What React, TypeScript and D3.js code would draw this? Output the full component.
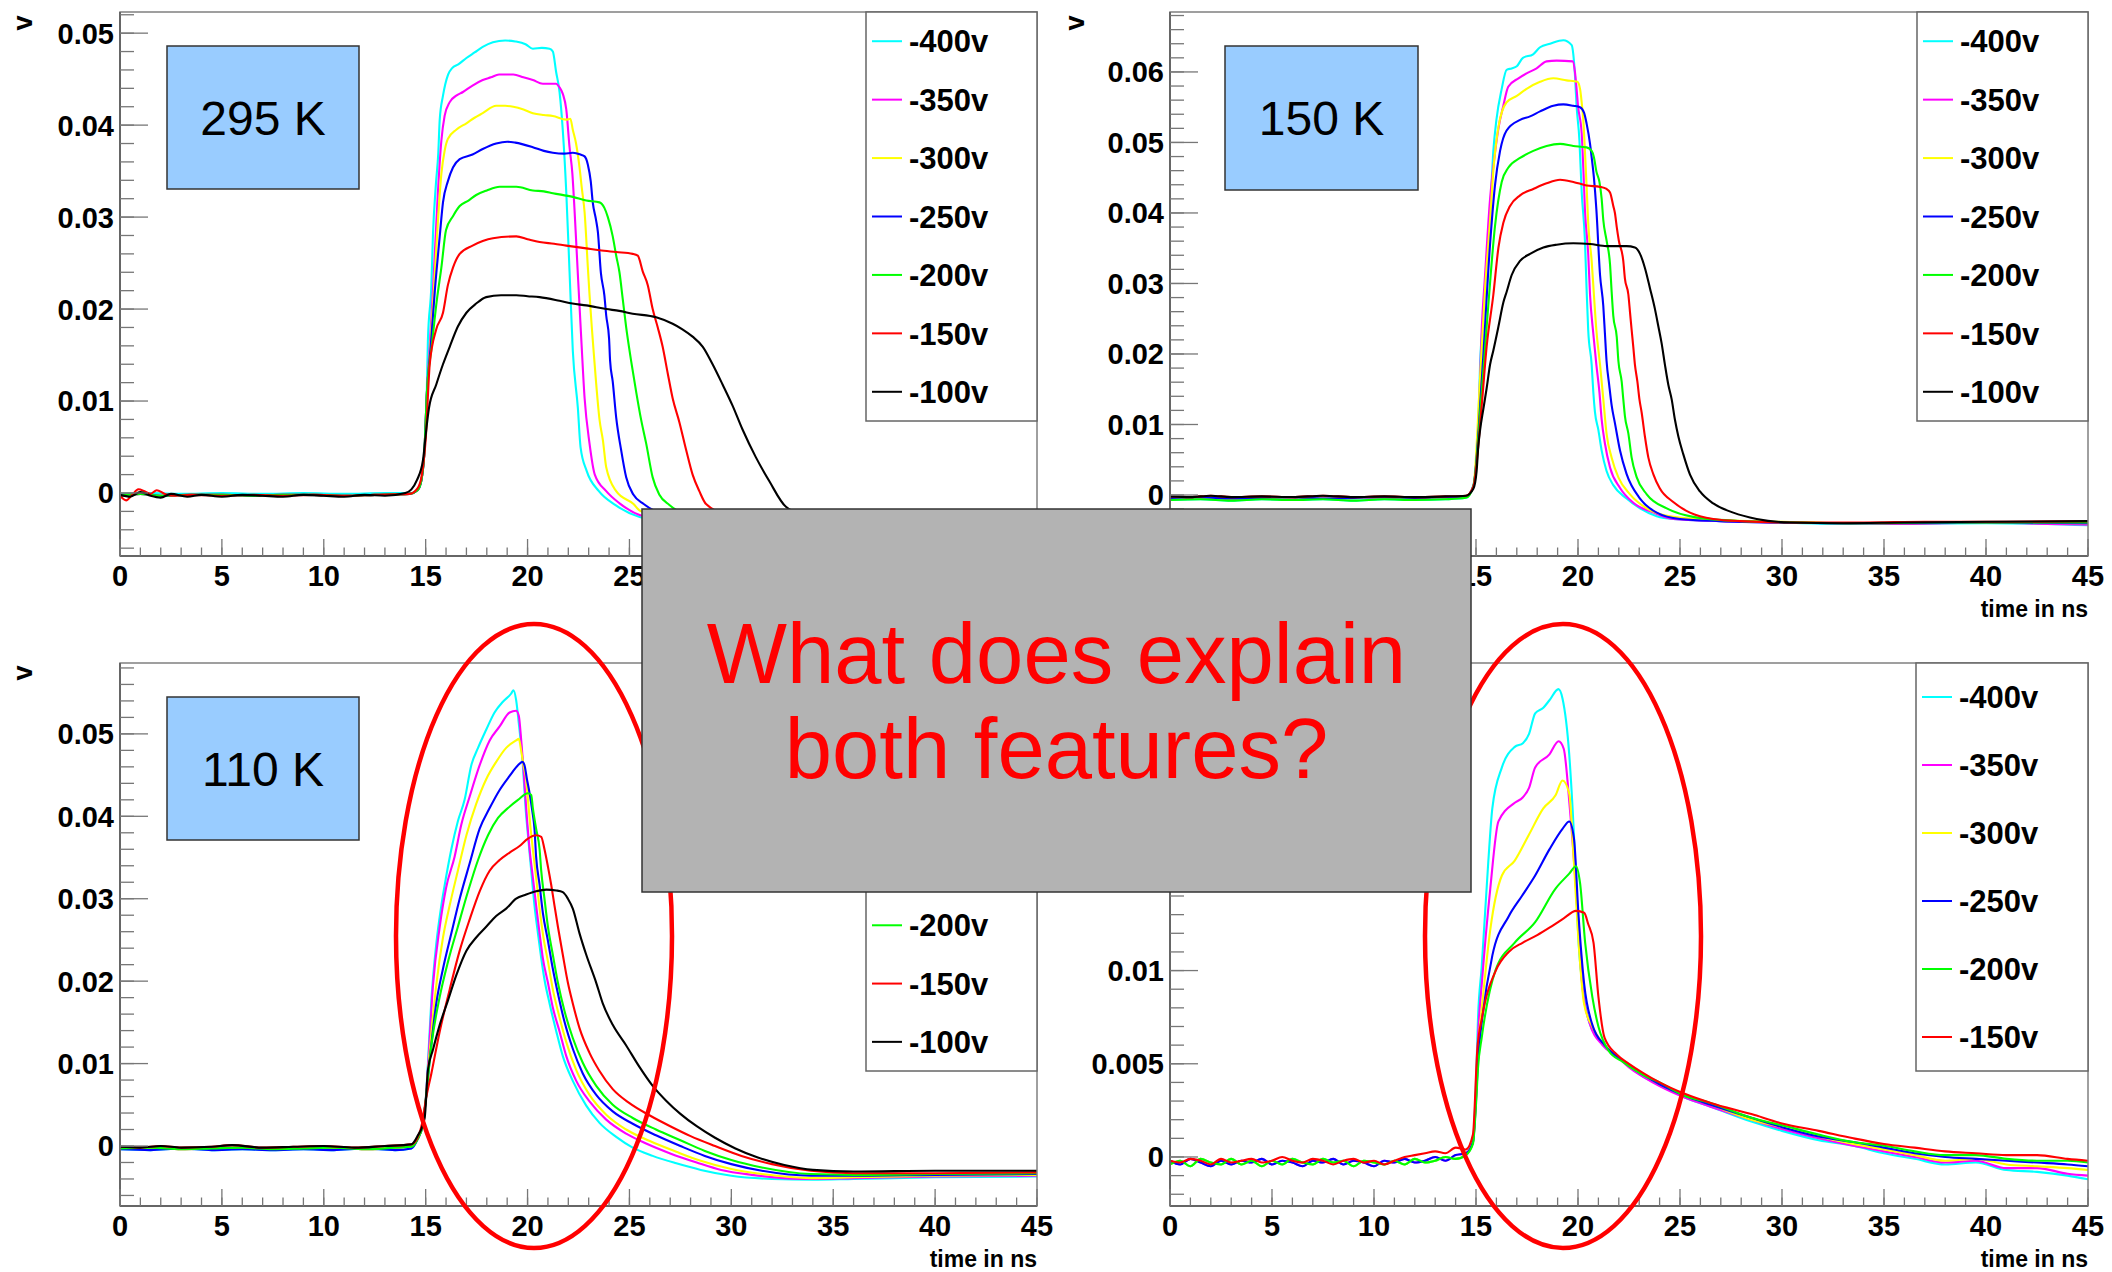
import React from "react";
import * as d3 from "d3";

type Pt = [number, number];

// ---- series metadata ----
const SERIES_LABELS = ["-400v", "-350v", "-300v", "-250v", "-200v", "-150v", "-100v"];
const SERIES_COLORS = ["#00ffff", "#ff00ff", "#ffff00", "#0000ff", "#00ff00", "#ff0000", "#000000"];

// ---- axis ticks ----
const X_MAJOR = [0, 5, 10, 15, 20, 25, 30, 35, 40, 45];
const Y_MAJOR_A = [0, 0.01, 0.02, 0.03, 0.04, 0.05];
const Y_MAJOR_B = [0, 0.01, 0.02, 0.03, 0.04, 0.05, 0.06];
const Y_MAJOR_C = [0, 0.005, 0.01, 0.015, 0.02, 0.025];

const TEMP_LABELS = ["295 K", "150 K", "110 K"];
const QUESTION_LINES = ["What does explain", "both features?"];

// ---- 295 K (time in ns, volts) ----
const BASE_295_CYAN: Pt[] = [[0, -0.0001], [1.5, 0.0], [3, -0.0001], [5, 0.0], [7, -0.0001], [9, 0.0], [11, -0.0001], [13, 0.0], [14.3, 0.0]];
const BASE_295_MID: Pt[] = [[0, -0.0003], [1, -0.0001], [2, -0.0003], [3.5, -0.0002], [5, -0.0002], [6.5, -0.0003], [8, -0.0002], [9.5, -0.0002], [11, -0.0003], [12.5, -0.0002], [14.2, -0.0001]];
const BASE_295_RED: Pt[] = [[0, -0.0003], [0.3, -0.0008], [0.6, -0.0002], [0.9, 0.0004], [1.2, 0.0002], [1.5, -0.0001], [1.8, 0.0003], [2.2, -0.0001], [2.7, -0.0003], [3.5, -0.0002], [5, -0.0003], [6.5, -0.0002], [8, -0.0003], [9.5, -0.0002], [11, -0.0003], [12.5, -0.0002], [14.2, -0.0001]];
const BASE_295_BLACK: Pt[] = [[0, -0.0002], [0.5, -0.0004], [1, 0.0001], [1.5, -0.0003], [2, -0.0005], [2.5, -0.0001], [3.3, -0.0004], [4, -0.0002], [5, -0.0004], [6, -0.0002], [7, -0.0003], [8, -0.0004], [9, -0.0002], [10, -0.0003], [11, -0.0004], [12, -0.0002], [13, -0.0003], [14, 0.0]];
const RISE_295: Pt[] = [[14.6, 0.0003], [14.8, 0.0015], [14.95, 0.005], [15.05, 0.0105]];

const T295_400: Pt[] = [...BASE_295_CYAN, ...RISE_295, [15.11, 0.0166], [15.28, 0.0226], [15.36, 0.0282], [15.5, 0.0335], [15.62, 0.037], [15.69, 0.0406], [15.85, 0.0432], [16.1, 0.0455], [16.3, 0.0462], [16.6, 0.0466], [17.0, 0.0473], [17.4, 0.0479], [17.8, 0.0485], [18.3, 0.049], [18.9, 0.0492], [19.4, 0.0491], [19.9, 0.0488], [20.26, 0.0483], [20.7, 0.0484], [21.08, 0.0483], [21.24, 0.048], [21.4, 0.0458], [21.57, 0.0436], [21.9, 0.0327], [22.06, 0.0241], [22.22, 0.0155], [22.47, 0.0092], [22.6, 0.005], [22.9, 0.0024], [23.5, 0.0002], [24.3, -0.0013], [25.5, -0.0026], [27, -0.0031], [30, -0.0033], [35, -0.0032], [40, -0.0031], [45, -0.003]];
const T295_350: Pt[] = [...BASE_295_MID, ...RISE_295, [15.2, 0.016], [15.36, 0.0221], [15.6, 0.0327], [15.77, 0.0383], [15.93, 0.041], [16.18, 0.0425], [16.5, 0.0432], [16.83, 0.0436], [17.3, 0.0443], [17.8, 0.0449], [18.2, 0.0452], [18.6, 0.0455], [19.3, 0.0455], [19.8, 0.0452], [20.26, 0.0449], [20.75, 0.0445], [21.4, 0.0445], [21.57, 0.0441], [21.73, 0.0434], [21.9, 0.0417], [22.06, 0.0376], [22.2, 0.0347], [22.3, 0.031], [22.47, 0.0237], [22.63, 0.017], [22.8, 0.0103], [23.04, 0.0054], [23.3, 0.002], [23.86, 0.0002], [24.5, -0.0011], [25.5, -0.0024], [27, -0.003], [30, -0.0033], [35, -0.0032], [40, -0.0031], [45, -0.003]];
const T295_300: Pt[] = [...BASE_295_MID, ...RISE_295, [15.2, 0.015], [15.4, 0.022], [15.6, 0.0295], [15.77, 0.0347], [15.93, 0.0372], [16.09, 0.0385], [16.5, 0.0395], [17.0, 0.0402], [17.4, 0.0408], [17.8, 0.0413], [18.46, 0.0421], [18.9, 0.0421], [19.3, 0.042], [19.8, 0.0417], [20.26, 0.0413], [20.8, 0.0411], [21.24, 0.041], [21.9, 0.0406], [22.1, 0.0407], [22.22, 0.0395], [22.38, 0.038], [22.55, 0.0354], [22.66, 0.0332], [22.8, 0.0305], [22.96, 0.0245], [23.04, 0.0216], [23.15, 0.0181], [23.25, 0.0152], [23.36, 0.0121], [23.53, 0.008], [23.7, 0.0057], [23.86, 0.0028], [24.35, 0.0002], [25.2, -0.0012], [25.5, -0.0019], [27, -0.0028], [30, -0.0032], [35, -0.0032], [40, -0.0031], [45, -0.003]];
const T295_250: Pt[] = [...BASE_295_MID, ...RISE_295, [15.25, 0.016], [15.45, 0.022], [15.69, 0.0279], [15.85, 0.0316], [16.09, 0.0339], [16.34, 0.0354], [16.67, 0.0363], [17.3, 0.0368], [17.8, 0.0374], [18.46, 0.038], [19.0, 0.0382], [19.4, 0.0381], [20.26, 0.0376], [20.8, 0.0372], [21.24, 0.037], [21.8, 0.0369], [22.22, 0.037], [22.6, 0.0368], [22.8, 0.0366], [22.96, 0.0357], [23.1, 0.0339], [23.2, 0.0316], [23.36, 0.0297], [23.45, 0.0284], [23.6, 0.0239], [23.77, 0.0215], [23.86, 0.0193], [24.0, 0.0168], [24.05, 0.0144], [24.18, 0.0121], [24.35, 0.0082], [24.59, 0.0047], [24.84, 0.0017], [25.2, -0.0002], [25.7, -0.0012], [27, -0.0025], [30, -0.0031], [35, -0.0032], [40, -0.0031], [45, -0.003]];
const T295_200: Pt[] = [...BASE_295_MID, ...RISE_295, [15.3, 0.016], [15.55, 0.021], [15.77, 0.0245], [16.0, 0.0286], [16.34, 0.0301], [16.67, 0.0312], [17.1, 0.0318], [17.48, 0.0324], [18.0, 0.0329], [18.63, 0.0333], [19.45, 0.0333], [20.26, 0.0329], [20.8, 0.0328], [21.24, 0.0326], [22.22, 0.0322], [22.88, 0.0318], [23.53, 0.0316], [23.77, 0.031], [23.94, 0.03], [24.18, 0.0279], [24.35, 0.0258], [24.51, 0.024], [24.67, 0.0211], [24.84, 0.018], [25.08, 0.0144], [25.33, 0.011], [25.57, 0.008], [25.82, 0.0054], [26.14, 0.0017], [26.47, -0.0002], [26.96, -0.0013], [28, -0.0025], [30, -0.003], [35, -0.0032], [40, -0.0031], [45, -0.003]];
const T295_150: Pt[] = [...BASE_295_RED, [14.6, 0.0005], [14.8, 0.0018], [15.0, 0.0058], [15.2, 0.014], [15.52, 0.0178], [15.85, 0.0196], [16.09, 0.0226], [16.34, 0.0245], [16.67, 0.026], [17.3, 0.0269], [17.8, 0.0274], [18.3, 0.0277], [19.45, 0.0279], [20.0, 0.0276], [20.59, 0.0273], [21.3, 0.0271], [21.9, 0.0269], [22.88, 0.0266], [23.53, 0.0264], [24.35, 0.0262], [25.16, 0.026], [25.41, 0.0258], [25.65, 0.0241], [25.9, 0.0226], [26.14, 0.02], [26.39, 0.018], [26.63, 0.0159], [26.88, 0.013], [27.12, 0.0103], [27.45, 0.0077], [27.78, 0.0047], [28.1, 0.002], [28.43, 0.0002], [28.76, -0.0012], [30, -0.0025], [32, -0.003], [35, -0.0031], [40, -0.0031], [45, -0.003]];
const T295_100: Pt[] = [...BASE_295_BLACK, [14.3, 0.0004], [14.57, 0.0014], [14.87, 0.0036], [15.03, 0.0069], [15.16, 0.0092], [15.52, 0.0118], [15.85, 0.014], [16.18, 0.0159], [16.58, 0.0181], [17.0, 0.0196], [17.48, 0.0206], [17.97, 0.0213], [18.7, 0.0215], [19.45, 0.0215], [20.0, 0.0214], [20.59, 0.0213], [21.57, 0.0209], [22.2, 0.0206], [22.88, 0.0204], [23.86, 0.02], [24.5, 0.0198], [25.16, 0.0195], [26.31, 0.0191], [27.12, 0.0184], [27.6, 0.0178], [28.1, 0.017], [28.6, 0.0159], [29.08, 0.014], [29.57, 0.0118], [30.06, 0.0095], [30.55, 0.0069], [31.2, 0.0039], [31.86, 0.0013], [32.68, -0.0015], [34, -0.0027], [36, -0.0031], [40, -0.003], [45, -0.003]];

// ---- 150 K ----
const BASE_150_A: Pt[] = [[0, -0.0004], [1.5, -0.0003], [3, -0.0005], [4.5, -0.0004], [6, -0.0003], [7.5, -0.0005], [9, -0.0004], [10.5, -0.0003], [12, -0.0004], [13.5, -0.0003], [14.5, -0.0002]];
const BASE_150_B: Pt[] = [[0, -0.0002], [1, -0.0003], [2, -0.0001], [3, -0.0003], [4.5, -0.0002], [6, -0.0003], [7.5, -0.0001], [9, -0.0003], [10.5, -0.0002], [12, -0.0003], [13.5, -0.0002], [14.5, -0.0001]];
const BASE_150_C: Pt[] = [[0, -0.0007], [1.5, -0.0006], [3, -0.0008], [4.5, -0.0006], [6, -0.0007], [7.5, -0.0006], [9, -0.0008], [10.5, -0.0006], [12, -0.0007], [13.5, -0.0006], [14.5, -0.0004]];

const T150_400: Pt[] = [...BASE_150_C, [14.87, 0.0014], [15.11, 0.0097], [15.2, 0.0185], [15.36, 0.0254], [15.52, 0.0332], [15.69, 0.04], [15.85, 0.0488], [16.0, 0.0532], [16.26, 0.0576], [16.5, 0.0603], [16.75, 0.0605], [17.0, 0.0608], [17.3, 0.062], [17.8, 0.0625], [18.14, 0.0635], [18.63, 0.064], [19.28, 0.0645], [19.69, 0.0638], [19.77, 0.0625], [19.85, 0.0596], [19.93, 0.0552], [20.07, 0.0503], [20.18, 0.043], [20.34, 0.0361], [20.42, 0.0293], [20.5, 0.0234], [20.67, 0.0185], [20.75, 0.0146], [20.83, 0.0118], [21.0, 0.0092], [21.16, 0.0063], [21.4, 0.0034], [21.73, 0.0014], [22.38, -0.0005], [23.04, -0.0019], [23.86, -0.003], [24.67, -0.0034], [27, -0.0037], [30, -0.0039], [33, -0.0041], [36, -0.0041], [40, -0.004], [43, -0.0041], [45, -0.0043]];
const T150_350: Pt[] = [...BASE_150_A, [14.87, 0.0012], [15.11, 0.009], [15.28, 0.0235], [15.44, 0.031], [15.69, 0.042], [15.93, 0.0485], [16.1, 0.052], [16.34, 0.0552], [16.58, 0.0579], [17.08, 0.0591], [17.48, 0.0598], [17.97, 0.0605], [18.46, 0.0615], [18.95, 0.0616], [19.74, 0.0615], [19.85, 0.06], [19.93, 0.0576], [20.0, 0.0552], [20.18, 0.0513], [20.26, 0.0464], [20.34, 0.0405], [20.5, 0.0342], [20.59, 0.0284], [20.75, 0.0229], [20.9, 0.0185], [21.05, 0.0146], [21.16, 0.0107], [21.32, 0.0073], [21.57, 0.0039], [22.06, 0.001], [22.71, -0.0011], [23.7, -0.0025], [24.67, -0.0034], [27, -0.0037], [30, -0.0039], [33, -0.004], [36, -0.0041], [40, -0.0039], [43, -0.0041], [45, -0.0042]];
const T150_300: Pt[] = [...BASE_150_A, [14.87, 0.0012], [15.2, 0.0166], [15.44, 0.029], [15.69, 0.039], [15.85, 0.046], [16.1, 0.0522], [16.5, 0.0557], [17.0, 0.0566], [17.48, 0.0576], [18.14, 0.0586], [18.79, 0.0591], [19.44, 0.0588], [19.97, 0.0586], [20.1, 0.0576], [20.18, 0.0557], [20.26, 0.0532], [20.34, 0.0488], [20.42, 0.0439], [20.5, 0.0386], [20.67, 0.0332], [20.78, 0.0284], [20.9, 0.0234], [21.08, 0.0185], [21.24, 0.0136], [21.4, 0.0087], [21.65, 0.0053], [21.98, 0.0025], [22.55, 0.0001], [23.37, -0.0019], [24.67, -0.0031], [27, -0.0036], [30, -0.0038], [33, -0.004], [36, -0.004], [40, -0.0039], [45, -0.004]];
const T150_250: Pt[] = [...BASE_150_A, [14.87, 0.0012], [15.28, 0.0162], [15.69, 0.0356], [15.93, 0.0439], [16.18, 0.0488], [16.5, 0.0517], [17.16, 0.0532], [17.65, 0.0537], [18.14, 0.0544], [18.79, 0.0552], [19.28, 0.0554], [19.77, 0.0552], [20.1, 0.055], [20.3, 0.0542], [20.42, 0.0527], [20.59, 0.0498], [20.67, 0.0479], [20.78, 0.045], [20.9, 0.0405], [21.08, 0.0312], [21.24, 0.0268], [21.32, 0.0229], [21.4, 0.019], [21.53, 0.0156], [21.65, 0.0127], [21.81, 0.0102], [22.06, 0.0063], [22.38, 0.003], [23.04, -0.0005], [23.86, -0.0025], [25.0, -0.0034], [27, -0.0037], [30, -0.0039], [33, -0.004], [36, -0.004], [40, -0.0039], [45, -0.004]];
const T150_200: Pt[] = [...BASE_150_C, [14.87, 0.0012], [15.28, 0.0146], [15.6, 0.0268], [15.93, 0.0381], [16.26, 0.0444], [16.58, 0.0464], [17.16, 0.0478], [17.81, 0.0488], [18.46, 0.0495], [19.12, 0.0498], [19.77, 0.0495], [20.42, 0.0493], [20.67, 0.0488], [20.78, 0.0479], [20.9, 0.0459], [21.05, 0.0444], [21.16, 0.042], [21.24, 0.039], [21.4, 0.0361], [21.57, 0.0327], [21.65, 0.0288], [21.73, 0.0254], [21.9, 0.0224], [21.98, 0.019], [22.14, 0.0161], [22.22, 0.0136], [22.3, 0.0112], [22.47, 0.0087], [22.63, 0.0053], [22.88, 0.0025], [23.37, 0.0001], [24.35, -0.0019], [25.65, -0.0031], [28, -0.0037], [31, -0.0039], [34, -0.004], [37, -0.0039], [41, -0.0039], [45, -0.0039]];
const T150_150: Pt[] = [...BASE_150_B, [14.87, 0.0012], [15.28, 0.0127], [15.52, 0.021], [15.85, 0.0284], [16.1, 0.0351], [16.34, 0.0386], [16.67, 0.041], [17.16, 0.0425], [17.81, 0.0434], [18.46, 0.0442], [19.12, 0.0447], [19.77, 0.0444], [20.42, 0.0439], [21.08, 0.0437], [21.4, 0.0434], [21.57, 0.0429], [21.73, 0.041], [21.81, 0.04], [21.9, 0.038], [22.0, 0.0361], [22.22, 0.0332], [22.3, 0.0307], [22.47, 0.0284], [22.55, 0.0259], [22.63, 0.0234], [22.71, 0.021], [22.79, 0.0185], [22.91, 0.0161], [23.01, 0.0136], [23.12, 0.0117], [23.28, 0.0083], [23.45, 0.0053], [23.7, 0.0029], [24.0, 0.001], [24.67, -0.001], [25.49, -0.0025], [26.63, -0.0034], [27.94, -0.0037], [31, -0.0039], [34, -0.0039], [37, -0.0038], [41, -0.0038], [45, -0.0037]];
const T150_100: Pt[] = [...BASE_150_B, [14.87, 0.0009], [15.03, 0.0034], [15.11, 0.0068], [15.2, 0.0092], [15.36, 0.0122], [15.52, 0.0151], [15.69, 0.0185], [15.85, 0.0205], [16.1, 0.0239], [16.34, 0.0273], [16.5, 0.0288], [16.75, 0.0312], [17.16, 0.0332], [17.65, 0.0342], [18.3, 0.0351], [18.95, 0.0355], [19.77, 0.0357], [20.59, 0.0356], [21.4, 0.0353], [22.38, 0.0353], [22.79, 0.0351], [23.04, 0.0342], [23.28, 0.0322], [23.53, 0.0293], [23.77, 0.0264], [23.94, 0.0239], [24.1, 0.0215], [24.26, 0.0185], [24.43, 0.0156], [24.59, 0.0136], [24.75, 0.0107], [24.92, 0.0083], [25.16, 0.0058], [25.49, 0.0029], [25.98, 0.0005], [26.63, -0.0012], [27.61, -0.0025], [28.76, -0.0034], [30.39, -0.0039], [33, -0.004], [36, -0.0039], [40, -0.0038], [45, -0.0037]];

// ---- 110 K ----
const BASE_110_A: Pt[] = [[0, -0.0003], [1.5, -0.0002], [3, -0.0004], [4.5, -0.0003], [6, -0.0002], [7.5, -0.0004], [9, -0.0003], [10.5, -0.0002], [12, -0.0004], [13.5, -0.0002], [14.3, -0.0001]];
const BASE_110_B: Pt[] = [[0, -0.0001], [1, -0.0002], [2, 0.0], [3, -0.0002], [4.5, -0.0001], [5.5, 0.0001], [7, -0.0002], [8.5, -0.0001], [10, 0.0], [11.5, -0.0002], [13, 0.0], [14.3, 0.0002]];
const BASE_110_C: Pt[] = [[0, -0.0004], [1.5, -0.0005], [3, -0.0003], [4.5, -0.0005], [6, -0.0004], [7.5, -0.0005], [9, -0.0004], [10.5, -0.0005], [12, -0.0003], [13.5, -0.0005], [14.3, -0.0003]];
const RISE_110: Pt[] = [[14.6, 0.0008], [14.85, 0.0025], [15.0, 0.0055]];

const T110_400: Pt[] = [...BASE_110_C, ...RISE_110, [15.11, 0.01], [15.28, 0.0177], [15.52, 0.0245], [15.77, 0.0292], [16.0, 0.0326], [16.26, 0.036], [16.58, 0.0394], [16.91, 0.042], [17.24, 0.0462], [17.57, 0.0483], [17.97, 0.0505], [18.38, 0.0526], [18.79, 0.0539], [19.2, 0.0549], [19.31, 0.0553], [19.44, 0.0541], [19.57, 0.0513], [19.77, 0.0462], [19.9, 0.0411], [20.02, 0.0377], [20.18, 0.0334], [20.34, 0.0292], [20.51, 0.0258], [20.67, 0.0228], [20.83, 0.0202], [21.08, 0.0173], [21.41, 0.0139], [21.73, 0.0109], [22.22, 0.0079], [22.88, 0.0049], [23.53, 0.0028], [24.35, 0.0011], [25.16, -0.0002], [26.14, -0.0012], [27.3, -0.0021], [28.5, -0.0029], [30, -0.0036], [32, -0.004], [34, -0.0041], [36, -0.004], [40, -0.0038], [45, -0.0037]];
const T110_350: Pt[] = [...BASE_110_A, ...RISE_110, [15.11, 0.0095], [15.36, 0.0195], [15.69, 0.0266], [16.0, 0.0313], [16.42, 0.0351], [16.75, 0.039], [17.16, 0.0424], [17.65, 0.0462], [18.14, 0.0492], [18.63, 0.0509], [19.12, 0.0526], [19.44, 0.0528], [19.57, 0.0522], [19.69, 0.0492], [19.8, 0.0458], [19.93, 0.0411], [20.1, 0.036], [20.26, 0.0326], [20.42, 0.0292], [20.59, 0.0258], [20.75, 0.0228], [21.0, 0.0198], [21.24, 0.0168], [21.57, 0.0139], [21.9, 0.0109], [22.39, 0.0079], [23.04, 0.0054], [23.86, 0.0032], [24.84, 0.0015], [25.82, 0.0003], [27, -0.0009], [28.3, -0.002], [29.5, -0.0029], [31, -0.0035], [33.9, -0.004], [36, -0.0039], [40, -0.0037], [45, -0.0036]];
const T110_300: Pt[] = [...BASE_110_A, ...RISE_110, [15.2, 0.0115], [15.52, 0.0195], [15.85, 0.0253], [16.18, 0.0292], [16.58, 0.0334], [17.0, 0.0377], [17.48, 0.0415], [17.97, 0.0445], [18.46, 0.0466], [18.95, 0.0483], [19.44, 0.0492], [19.57, 0.0494], [19.69, 0.0479], [19.8, 0.0462], [19.93, 0.0445], [20.02, 0.042], [20.13, 0.039], [20.26, 0.036], [20.42, 0.0326], [20.59, 0.0288], [20.78, 0.0253], [21.0, 0.0224], [21.24, 0.019], [21.57, 0.0156], [21.9, 0.0126], [22.39, 0.0092], [23.04, 0.0062], [23.86, 0.0038], [24.84, 0.002], [26, 0.0006], [27.3, -0.0007], [28.5, -0.0018], [30, -0.0028], [31.5, -0.0034], [33.9, -0.0039], [36, -0.0038], [40, -0.0036], [45, -0.0035]];
const T110_250: Pt[] = [...BASE_110_C, ...RISE_110, [15.2, 0.0105], [15.52, 0.0173], [15.85, 0.0215], [16.26, 0.0258], [16.67, 0.03], [17.16, 0.0343], [17.65, 0.0385], [18.14, 0.041], [18.63, 0.0432], [19.12, 0.0449], [19.53, 0.0462], [19.75, 0.0466], [19.85, 0.0462], [19.97, 0.0445], [20.1, 0.0428], [20.23, 0.0407], [20.34, 0.0385], [20.42, 0.0351], [20.59, 0.0317], [20.75, 0.0283], [21.0, 0.0249], [21.24, 0.0215], [21.49, 0.0185], [21.81, 0.0151], [22.22, 0.0118], [22.71, 0.0088], [23.37, 0.0062], [24.18, 0.0042], [25.16, 0.0027], [26.3, 0.0013], [27.5, 0.0], [28.7, -0.0012], [30, -0.0022], [31.5, -0.003], [33.9, -0.0036], [36, -0.0036], [40, -0.0035], [45, -0.0034]];
const T110_200: Pt[] = [...BASE_110_A, ...RISE_110, [15.28, 0.0122], [15.69, 0.0181], [16.1, 0.0224], [16.58, 0.0266], [17.08, 0.0309], [17.57, 0.0347], [18.06, 0.0377], [18.55, 0.0398], [19.04, 0.041], [19.53, 0.042], [20.02, 0.0428], [20.18, 0.0426], [20.26, 0.041], [20.42, 0.0385], [20.59, 0.036], [20.67, 0.0334], [20.83, 0.03], [21.0, 0.0266], [21.24, 0.0232], [21.49, 0.0198], [21.81, 0.0164], [22.22, 0.0131], [22.71, 0.0101], [23.37, 0.0073], [24.18, 0.005], [25.16, 0.0034], [26.3, 0.002], [27.5, 0.0007], [28.7, -0.0006], [30, -0.0017], [31.5, -0.0026], [33.9, -0.0034], [36, -0.0035], [40, -0.0034], [45, -0.0033]];
const T110_150: Pt[] = [...BASE_110_B, [14.6, 0.001], [14.85, 0.003], [15.0, 0.0055], [15.28, 0.0088], [15.69, 0.0139], [16.18, 0.019], [16.67, 0.0237], [17.16, 0.0275], [17.65, 0.0309], [18.14, 0.0334], [18.63, 0.0347], [19.12, 0.0356], [19.61, 0.0364], [20.02, 0.0373], [20.42, 0.0377], [20.67, 0.0375], [20.83, 0.036], [21.0, 0.0339], [21.16, 0.0317], [21.32, 0.0292], [21.49, 0.0266], [21.73, 0.0232], [21.98, 0.0198], [22.22, 0.0173], [22.55, 0.0143], [23.04, 0.0113], [23.53, 0.0091], [24.18, 0.0069], [25, 0.0052], [26, 0.0037], [27, 0.0024], [28, 0.0012], [29.2, 0.0], [30.5, -0.0012], [32, -0.0022], [33.9, -0.003], [36, -0.0033], [40, -0.0033], [45, -0.0032]];
const T110_100: Pt[] = [...BASE_110_B, [14.6, 0.0012], [14.95, 0.0034], [15.11, 0.0092], [15.36, 0.0117], [15.69, 0.0147], [16.1, 0.0177], [16.5, 0.0207], [17.0, 0.0237], [17.48, 0.0253], [17.97, 0.0266], [18.46, 0.0279], [18.95, 0.0288], [19.44, 0.03], [19.93, 0.0305], [20.42, 0.0309], [20.92, 0.0311], [21.41, 0.031], [21.73, 0.0308], [21.98, 0.03], [22.22, 0.0288], [22.55, 0.0258], [22.88, 0.0232], [23.37, 0.0198], [23.69, 0.0173], [24.18, 0.0147], [24.84, 0.0122], [25.49, 0.0096], [26.14, 0.0073], [26.8, 0.0055], [27.5, 0.0039], [28.3, 0.0024], [29.2, 0.001], [30.2, -0.0003], [31.3, -0.0014], [32.6, -0.0023], [34, -0.0029], [36, -0.0031], [40, -0.003], [45, -0.003]];

// ---- lowest temperature ----
const BASE_LT_A: Pt[] = [[0, -0.0002], [0.5, -0.0004], [1, -0.0001], [1.5, -0.0003], [2, -0.0005], [2.5, -0.0002], [3, -0.0004], [3.5, -0.0002], [4, -0.0003], [4.5, -0.0001], [5, -0.0004], [5.5, -0.0002], [6, -0.0003], [6.5, -0.0005], [7, -0.0002], [7.5, -0.0003], [8, -0.0001], [8.5, -0.0004], [9, -0.0002], [9.5, -0.0003], [10, -0.0005], [10.5, -0.0002], [11, -0.0003], [11.5, -0.0001], [12, -0.0003], [12.5, -0.0002], [13, 0.0], [13.5, -0.0002], [14, 0.0001], [14.5, 0.0002]];
const BASE_LT_B: Pt[] = [[0, -0.0004], [0.5, -0.0002], [1, -0.0005], [1.5, -0.0001], [2, -0.0003], [2.5, -0.0004], [3, -0.0001], [3.5, -0.0004], [4, -0.0002], [4.5, -0.0005], [5, -0.0002], [5.5, -0.0004], [6, -0.0001], [6.5, -0.0003], [7, -0.0004], [7.5, -0.0001], [8, -0.0003], [8.5, -0.0002], [9, -0.0005], [9.5, -0.0002], [10, -0.0003], [10.5, -0.0004], [11, -0.0002], [11.5, -0.0004], [12, -0.0001], [12.5, -0.0003], [13, -0.0002], [13.5, 0.0], [14, -0.0001], [14.5, 0.0001]];
const BASE_LT_RED: Pt[] = [[0, -0.0002], [0.5, -0.0003], [1, -0.0001], [1.5, -0.0002], [2, -0.0004], [2.5, -0.0001], [3, -0.0003], [3.5, -0.0002], [4, -0.0001], [4.5, -0.0003], [5, -0.0002], [5.5, 0.0], [6, -0.0002], [6.5, -0.0003], [7, -0.0001], [7.5, -0.0002], [8, -0.0004], [8.5, -0.0002], [9, -0.0001], [9.5, -0.0003], [10, -0.0002], [10.5, -0.0004], [11, -0.0002], [11.5, 0.0], [12, 0.0001], [12.5, 0.0002], [13, 0.0003], [13.5, 0.0002], [14, 0.0005], [14.5, 0.0004]];

const LT_400: Pt[] = [...BASE_LT_B, [14.85, 0.0008], [15.0, 0.004], [15.1, 0.0075], [15.28, 0.0102], [15.6, 0.0158], [15.8, 0.0187], [16.27, 0.0209], [16.9, 0.022], [17.3, 0.0222], [17.6, 0.0227], [17.9, 0.0238], [18.3, 0.0241], [18.6, 0.0245], [19.04, 0.0251], [19.24, 0.0246], [19.57, 0.0216], [19.8, 0.0173], [20.03, 0.0115], [20.3, 0.0086], [20.56, 0.0072], [21.2, 0.0061], [21.9, 0.0054], [22.5, 0.0049], [23.2, 0.0043], [24, 0.0039], [25.2, 0.0032], [26.5, 0.0027], [28.5, 0.0019], [30, 0.0014], [31.8, 0.0009], [33.5, 0.0006], [35, 0.0002], [36.5, -0.0001], [38, -0.0004], [39.5, -0.0003], [41, -0.0007], [42.5, -0.0008], [44, -0.001], [45, -0.0012]];
const LT_350: Pt[] = [...BASE_LT_A, [14.85, 0.0008], [15.0, 0.0035], [15.1, 0.0065], [15.3, 0.0095], [15.7, 0.0144], [16.1, 0.018], [16.9, 0.019], [17.3, 0.0193], [17.6, 0.0198], [17.9, 0.0209], [18.6, 0.0216], [19.05, 0.0223], [19.3, 0.0219], [19.6, 0.0187], [19.9, 0.0144], [20.2, 0.0093], [20.56, 0.0072], [21.2, 0.006], [21.9, 0.0054], [22.5, 0.0048], [23.2, 0.0043], [24, 0.0038], [25.2, 0.0032], [26.5, 0.0027], [28.5, 0.002], [30, 0.0015], [31.8, 0.001], [33.5, 0.0006], [35, 0.0003], [36.5, 0.0], [38, -0.0003], [39.5, -0.0002], [41, -0.0006], [42.5, -0.0006], [44, -0.0009], [45, -0.001]];
const LT_300: Pt[] = [...BASE_LT_B, [14.85, 0.0008], [15.0, 0.0032], [15.1, 0.0058], [15.28, 0.0079], [15.7, 0.0122], [16.27, 0.0151], [16.9, 0.0159], [17.6, 0.0173], [18.3, 0.0187], [18.9, 0.0194], [19.24, 0.0202], [19.57, 0.0195], [19.8, 0.0158], [20.03, 0.0115], [20.3, 0.0082], [20.7, 0.007], [21.3, 0.006], [21.9, 0.0054], [22.5, 0.0049], [23.2, 0.0044], [24, 0.0039], [25.2, 0.0033], [26.5, 0.0028], [28.5, 0.002], [30, 0.0016], [31.8, 0.0011], [33.5, 0.0007], [35, 0.0004], [36.5, 0.0001], [38, -0.0002], [39.5, -0.0001], [41, -0.0004], [42.5, -0.0005], [44, -0.0006], [45, -0.0007]];
const LT_250: Pt[] = [...BASE_LT_A, [14.85, 0.0008], [15.0, 0.003], [15.1, 0.0052], [15.28, 0.0072], [15.8, 0.0108], [16.6, 0.0129], [17.25, 0.014], [17.9, 0.0151], [18.6, 0.0165], [19.24, 0.0176], [19.57, 0.018], [19.8, 0.0171], [20.03, 0.0129], [20.3, 0.0093], [20.7, 0.0071], [21.3, 0.006], [21.9, 0.0054], [22.5, 0.0049], [23.2, 0.0044], [24, 0.0039], [25.2, 0.0033], [26.5, 0.0028], [28.5, 0.0021], [30, 0.0016], [31.8, 0.0011], [33.5, 0.0008], [35, 0.0005], [36.5, 0.0002], [38, 0.0], [39.5, -0.0001], [41, -0.0002], [42.5, -0.0003], [44, -0.0004], [45, -0.0005]];
const LT_200: Pt[] = [...BASE_LT_B, [14.85, 0.0007], [15.0, 0.0028], [15.1, 0.0048], [15.28, 0.0064], [15.95, 0.01], [16.9, 0.0115], [17.9, 0.0126], [18.9, 0.0144], [19.57, 0.0152], [19.9, 0.0156], [20.1, 0.0147], [20.35, 0.0115], [20.7, 0.0086], [21.0, 0.007], [21.5, 0.0057], [22.2, 0.0051], [23.2, 0.0044], [24, 0.004], [25.2, 0.0033], [26.5, 0.0029], [28.5, 0.0021], [30, 0.0017], [31.8, 0.0012], [33.5, 0.0008], [35, 0.0006], [36.5, 0.0003], [38, 0.0001], [39.5, 0.0001], [41, -0.0001], [42.5, -0.0002], [44, -0.0002], [45, -0.0003]];
const LT_150: Pt[] = [...BASE_LT_RED, [14.85, 0.0012], [15.06, 0.0057], [15.3, 0.0075], [15.97, 0.01], [16.6, 0.011], [17.3, 0.0115], [18.0, 0.0119], [18.6, 0.0123], [19.3, 0.0128], [19.9, 0.0132], [20.3, 0.0131], [20.5, 0.0125], [20.76, 0.0115], [21.0, 0.0086], [21.3, 0.0064], [21.9, 0.0055], [22.5, 0.005], [23.2, 0.0045], [24, 0.004], [25.2, 0.0034], [26.5, 0.0029], [28.5, 0.0023], [30, 0.0018], [31.8, 0.0014], [33.5, 0.001], [35, 0.0007], [36.5, 0.0005], [38, 0.0003], [39.5, 0.0002], [41, 0.0001], [42.5, 0.0001], [44, -0.0001], [45, -0.0002]];

// ---- panel layout ----
type PanelCfg = {
  id: string;
  left: number; right: number; top: number; bottom: number;
  yMin: number; yMax: number;
  yMajor: number[]; yMinor: number;
  series: Pt[][];
  temp: string | null;
  tempBox: [number, number, number, number];
  legendLeft: number; legendTop: number; legendBottom: number;
  vLabel: [number, number];
};

const PANELS: PanelCfg[] = [
  {
    id: "p295", left: 120, right: 1037, top: 12, bottom: 556,
    yMin: -0.00685, yMax: 0.0523, yMajor: Y_MAJOR_A, yMinor: 0.002,
    series: [T295_400, T295_350, T295_300, T295_250, T295_200, T295_150, T295_100],
    temp: TEMP_LABELS[0], tempBox: [167, 46, 359, 189],
    legendLeft: 866, legendTop: 12, legendBottom: 421, vLabel: [24, 23],
  },
  {
    id: "p150", left: 1170, right: 2088, top: 12, bottom: 556,
    yMin: -0.00865, yMax: 0.0685, yMajor: Y_MAJOR_B, yMinor: 0.002,
    series: [T150_400, T150_350, T150_300, T150_250, T150_200, T150_150, T150_100],
    temp: TEMP_LABELS[1], tempBox: [1225, 46, 1418, 190],
    legendLeft: 1917, legendTop: 12, legendBottom: 421, vLabel: [1076, 23],
  },
  {
    id: "p110", left: 120, right: 1037, top: 663, bottom: 1206,
    yMin: -0.00728, yMax: 0.0586, yMajor: Y_MAJOR_A, yMinor: 0.002,
    series: [T110_400, T110_350, T110_300, T110_250, T110_200, T110_150, T110_100],
    temp: TEMP_LABELS[2], tempBox: [167, 697, 359, 840],
    legendLeft: 866, legendTop: 663, legendBottom: 1071, vLabel: [24, 673],
  },
  {
    id: "plt", left: 1170, right: 2088, top: 663, bottom: 1206,
    yMin: -0.00263, yMax: 0.0265, yMajor: Y_MAJOR_C, yMinor: 0.001,
    series: [LT_400, LT_350, LT_300, LT_250, LT_200, LT_150],
    temp: null, tempBox: [1225, 697, 1418, 840],
    legendLeft: 1916, legendTop: 663, legendBottom: 1071, vLabel: [1076, 673],
  },
];

const FONT = "'Liberation Sans', Arial, Helvetica, sans-serif";
const fmtY = d3.format("~g");

function Panel({ cfg }: { cfg: PanelCfg }) {
  const x = d3.scaleLinear().domain([0, 45]).range([cfg.left, cfg.right]);
  const y = d3.scaleLinear().domain([cfg.yMin, cfg.yMax]).range([cfg.bottom, cfg.top]);
  const line = d3
    .line<Pt>()
    .x((d) => x(d[0]))
    .y((d) => y(d[1]))
    .curve(d3.curveMonotoneX);

  const kMin = Math.ceil(cfg.yMin / cfg.yMinor - 1e-9);
  const kMax = Math.floor(cfg.yMax / cfg.yMinor + 1e-9);
  const yMinorTicks = d3.range(kMin, kMax + 1).map((k) => k * cfg.yMinor);
  const xMinorTicks = d3.range(0, 46, 1);

  const clipId = `clip-${cfg.id}`;
  const n = cfg.series.length;
  const legendStep = (cfg.legendBottom - cfg.legendTop) / n;

  return (
    <g>
      <defs>
        <clipPath id={clipId}>
          <rect x={cfg.left} y={cfg.top} width={cfg.right - cfg.left} height={cfg.bottom - cfg.top} />
        </clipPath>
      </defs>
      <rect x={cfg.left} y={cfg.top} width={cfg.right - cfg.left} height={cfg.bottom - cfg.top} fill="#fff" />

      {/* waveforms */}
      <g clipPath={`url(#${clipId})`}>
        {cfg.series.map((s, i) => (
          <path
            key={i}
            d={line(s) || ""}
            fill="none"
            stroke={SERIES_COLORS[i]}
            strokeWidth={2.1}
            strokeLinejoin="round"
          />
        ))}
      </g>

      {/* frame */}
      <rect
        x={cfg.left}
        y={cfg.top}
        width={cfg.right - cfg.left}
        height={cfg.bottom - cfg.top}
        fill="none"
        stroke="#808080"
        strokeWidth={1.5}
      />
      <line x1={cfg.left} x2={cfg.left} y1={cfg.top} y2={cfg.bottom} stroke="#666" strokeWidth={2} />
      <line x1={cfg.left} x2={cfg.right} y1={cfg.bottom} y2={cfg.bottom} stroke="#666" strokeWidth={2} />

      {/* y ticks */}
      {yMinorTicks.map((v, i) => (
        <line key={`ym${i}`} x1={cfg.left} x2={cfg.left + 14} y1={y(v)} y2={y(v)} stroke="#777" strokeWidth={1.3} />
      ))}
      {cfg.yMajor.map((v, i) => (
        <line key={`yM${i}`} x1={cfg.left} x2={cfg.left + 28} y1={y(v)} y2={y(v)} stroke="#777" strokeWidth={1.3} />
      ))}
      {cfg.yMajor.map((v, i) => (
        <text
          key={`yl${i}`}
          x={cfg.left - 6}
          y={y(v)}
          dy="0.36em"
          textAnchor="end"
          fontFamily={FONT}
          fontWeight="bold"
          fontSize={29}
          fill="#000"
        >
          {fmtY(v)}
        </text>
      ))}

      {/* x ticks */}
      {xMinorTicks.map((t) => (
        <line key={`xm${t}`} x1={x(t)} x2={x(t)} y1={cfg.bottom} y2={cfg.bottom - 8.5} stroke="#777" strokeWidth={1.3} />
      ))}
      {X_MAJOR.map((t) => (
        <line key={`xM${t}`} x1={x(t)} x2={x(t)} y1={cfg.bottom} y2={cfg.bottom - 17} stroke="#777" strokeWidth={1.3} />
      ))}
      {X_MAJOR.map((t) => (
        <text
          key={`xl${t}`}
          x={x(t)}
          y={cfg.bottom + 20}
          dy="0.36em"
          textAnchor="middle"
          fontFamily={FONT}
          fontWeight="bold"
          fontSize={29}
          fill="#000"
        >
          {t}
        </text>
      ))}
      <text
        x={cfg.right}
        y={cfg.bottom + 53}
        dy="0.36em"
        textAnchor="end"
        fontFamily={FONT}
        fontWeight="bold"
        fontSize={23}
        fill="#000"
      >
        time in ns
      </text>
      <text
        transform={`translate(${cfg.vLabel[0]},${cfg.vLabel[1]}) rotate(-90)`}
        textAnchor="middle"
        dy="0.3em"
        fontFamily={FONT}
        fontWeight="bold"
        fontSize={27}
        fill="#000"
      >
        v
      </text>

      {/* legend */}
      <rect
        x={cfg.legendLeft}
        y={cfg.legendTop}
        width={cfg.right - cfg.legendLeft}
        height={cfg.legendBottom - cfg.legendTop}
        fill="#fff"
        stroke="#666"
        strokeWidth={1.5}
      />
      {cfg.series.map((_, i) => {
        const cy = cfg.legendTop + legendStep * (i + 0.5);
        return (
          <g key={`lg${i}`}>
            <line
              x1={cfg.legendLeft + 6}
              x2={cfg.legendLeft + 36}
              y1={cy}
              y2={cy}
              stroke={SERIES_COLORS[i]}
              strokeWidth={2}
            />
            <text
              x={cfg.legendLeft + 43}
              y={cy}
              dy="0.36em"
              fontFamily={FONT}
              fontWeight="bold"
              fontSize={31}
              fill="#000"
            >
              {SERIES_LABELS[i]}
            </text>
          </g>
        );
      })}

      {/* temperature tag */}
      {cfg.temp && (
        <g>
          <rect
            x={cfg.tempBox[0]}
            y={cfg.tempBox[1]}
            width={cfg.tempBox[2] - cfg.tempBox[0]}
            height={cfg.tempBox[3] - cfg.tempBox[1]}
            fill="#99ccff"
            stroke="#333"
            strokeWidth={1.5}
          />
          <text
            x={(cfg.tempBox[0] + cfg.tempBox[2]) / 2}
            y={(cfg.tempBox[1] + cfg.tempBox[3]) / 2}
            dy="0.36em"
            textAnchor="middle"
            fontFamily={FONT}
            fontSize={48}
            fill="#000"
          >
            {cfg.temp}
          </text>
        </g>
      )}
    </g>
  );
}

export default function App() {
  return (
    <svg
      width={2112}
      height={1272}
      viewBox="0 0 2112 1272"
      style={{ position: "absolute", left: 0, top: 0, background: "#fff" }}
    >
      <rect x={0} y={0} width={2112} height={1272} fill="#fff" />
      {PANELS.map((p) => (
        <Panel key={p.id} cfg={p} />
      ))}

      {/* highlight ellipses */}
      <ellipse cx={534} cy={936} rx={138} ry={312} fill="none" stroke="#ff0000" strokeWidth={4.5} />
      <ellipse cx={1563} cy={936} rx={138} ry={312} fill="none" stroke="#ff0000" strokeWidth={4.5} />

      {/* question box */}
      <rect x={642} y={509} width={829} height={383} fill="#b3b3b3" stroke="#333" strokeWidth={1.5} />
      {QUESTION_LINES.map((s, i) => (
        <text
          key={i}
          x={1056.5}
          y={683 + i * 95}
          textAnchor="middle"
          fontFamily={FONT}
          fontSize={85}
          fill="#ff0000"
        >
          {s}
        </text>
      ))}
    </svg>
  );
}
